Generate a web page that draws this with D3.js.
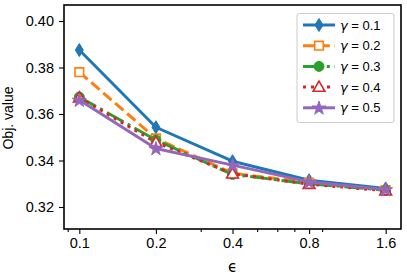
<!DOCTYPE html>
<html>
<head>
<meta charset="utf-8">
<script src="https://cdn.jsdelivr.net/npm/d3@7"></script>
<style>
  body { margin: 0; background: #fff; }
  svg { display: block; font-family: "Liberation Sans", Arial, sans-serif; }
</style>
</head>
<body>
<svg id="chart" width="407" height="277"></svg>
<script>
// data
const epsilons = [0.1, 0.2, 0.4, 0.8, 1.6];
const xTickLabels = ["0.1", "0.2", "0.4", "0.8", "1.6"];
const xMinorTicks = [0.09, 0.3, 0.5, 0.6, 0.7, 0.9];
const yTicks = [0.32, 0.34, 0.36, 0.38, 0.40];
const gammas = ["0.1", "0.2", "0.3", "0.4", "0.5"];

const gamma01 = [0.3875, 0.3543, 0.3397, 0.3315, 0.3280];
const gamma02 = [0.3780, 0.3495, 0.3345, 0.3305, 0.3273];
const gamma03 = [0.3673, 0.3488, 0.3340, 0.3300, 0.3272];
const gamma04 = [0.3670, 0.3478, 0.3343, 0.3298, 0.3270];
const gamma05 = [0.3660, 0.3452, 0.3380, 0.3308, 0.3275];

const svg = d3.select("#chart");
const plotLeft = 64, plotRight = 401, plotTop = 5, plotBottom = 229;
const lw = 3;

const x = d3.scaleLog()
    .domain([0.1 * Math.pow(2, -0.2), 1.6 * Math.pow(2, 0.2)])
    .range([plotLeft, plotRight]);
// 0.02 units ~ 46.5px, 0.40 sits at y=21
const y = d3.scaleLinear()
    .domain([0.32 - 22 / 46.5 * 0.02, 0.40 + 16 / 46.5 * 0.02])
    .range([plotBottom, plotTop]);

// marker shapes
const thinDiamond = (cx, cy) => `M${cx},${cy - 6.5}L${cx + 4},${cy}L${cx},${cy + 6.5}L${cx - 4},${cy}Z`;
const square = (cx, cy) => `M${cx - 4.3},${cy - 4.3}h8.6v8.6h-8.6Z`;

const series = [
  { name: gammas[0], values: gamma01, color: "#1f77b4", dash: null, marker: "diamond", fill: true },
  { name: gammas[1], values: gamma02, color: "#ff7f0e", dash: [11, 4.8], marker: "square", fill: false },
  { name: gammas[2], values: gamma03, color: "#2ca02c", dash: [19, 4.8, 3, 4.8], marker: "circle", fill: true },
  { name: gammas[3], values: gamma04, color: "#d62728", dash: [3, 5], marker: "triangle", fill: false },
  { name: gammas[4], values: gamma05, color: "#9467bd", dash: null, marker: "star", fill: true }
];

function drawMarker(g, type, cx, cy, color, fill) {
  let p;
  if (type === "diamond") {
    p = g.append("path").attr("d", thinDiamond(cx, cy));
  } else if (type === "square") {
    p = g.append("path").attr("d", square(cx, cy));
  } else if (type === "circle") {
    p = g.append("circle").attr("cx", cx).attr("cy", cy).attr("r", 5);
  } else if (type === "triangle") {
    p = g.append("path").attr("d", d3.symbol().type(d3.symbolTriangle).size(60)())
      .attr("transform", `translate(${cx},${cy + 0.8})`);
  } else {
    p = g.append("path").attr("d", d3.symbol().type(d3.symbolStar).size(60)())
      .attr("transform", `translate(${cx},${cy + 0.5})`);
  }
  p.attr("fill", fill ? color : "#fff")
    .attr("stroke", color)
    .attr("stroke-width", fill ? 1 : 1.6);
}

// lines + markers, series by series
const line = d3.line().x((d, i) => x(epsilons[i])).y(d => y(d));
series.forEach(s => {
  const g = svg.append("g");
  g.append("path")
    .attr("d", line(s.values))
    .attr("fill", "none")
    .attr("stroke", s.color)
    .attr("stroke-width", lw)
    .attr("stroke-dasharray", s.dash ? s.dash.join(",") : null)
    .attr("stroke-linejoin", "round");
  s.values.forEach((v, i) => drawMarker(g, s.marker, x(epsilons[i]), y(v), s.color, s.fill));
});

// axes
const xAxis = svg.append("g").attr("transform", `translate(0,${plotBottom})`)
  .call(d3.axisBottom(x).tickValues(epsilons).tickFormat((d, i) => xTickLabels[i]).tickSize(5).tickPadding(4));
const xMinor = svg.append("g").attr("transform", `translate(0,${plotBottom})`)
  .call(d3.axisBottom(x).tickValues(xMinorTicks).tickFormat("").tickSize(3));
const yAxis = svg.append("g").attr("transform", `translate(${plotLeft},0)`)
  .call(d3.axisLeft(y).tickValues(yTicks).tickFormat(d3.format(".2f")).tickSize(5).tickPadding(5));

[xAxis, xMinor, yAxis].forEach(a => {
  a.select(".domain").remove();
  a.selectAll(".tick line").attr("stroke", "#000").attr("stroke-width", 1.1);
  a.selectAll("text").attr("fill", "#000").attr("font-size", 14.5)
    .attr("font-family", "'Liberation Sans', Arial, sans-serif");
});

// frame
svg.append("rect")
  .attr("x", plotLeft).attr("y", plotTop)
  .attr("width", plotRight - plotLeft).attr("height", plotBottom - plotTop)
  .attr("fill", "none").attr("stroke", "#000").attr("stroke-width", 1.6);

// axis labels
svg.append("text")
  .attr("transform", `translate(13,${(plotTop + plotBottom) / 2 + 1}) rotate(-90)`)
  .attr("text-anchor", "middle")
  .attr("font-size", 14)
  .text("Obj. value");
svg.append("text")
  .attr("x", (plotLeft + plotRight) / 2).attr("y", 272)
  .attr("text-anchor", "middle")
  .attr("font-size", 15)
  .attr("font-family", "'DejaVu Sans', sans-serif")
  .text("\u03F5");

// legend
const legend = svg.append("g");
legend.append("rect")
  .attr("x", 297).attr("y", 13.5).attr("width", 97).attr("height", 109)
  .attr("rx", 2.5)
  .attr("fill", "#fff").attr("fill-opacity", 0.8)
  .attr("stroke", "#ccc").attr("stroke-width", 1);
series.forEach((s, i) => {
  const ly = 25 + i * 20.7;
  const row = legend.append("g");
  row.append("line")
    .attr("x1", 303).attr("x2", 335).attr("y1", ly).attr("y2", ly)
    .attr("stroke", s.color).attr("stroke-width", lw)
    .attr("stroke-dasharray", s.dash ? s.dash.join(",") : null);
  drawMarker(row, s.marker, 319, ly, s.color, s.fill);
  const t = row.append("text").attr("x", 340).attr("y", ly + 4.6).attr("font-size", 13);
  t.append("tspan").attr("font-family", "'DejaVu Sans', sans-serif").attr("font-style", "italic").text("\u03B3");
  t.append("tspan").text(" = " + s.name);
});
</script>
</body>
</html>
